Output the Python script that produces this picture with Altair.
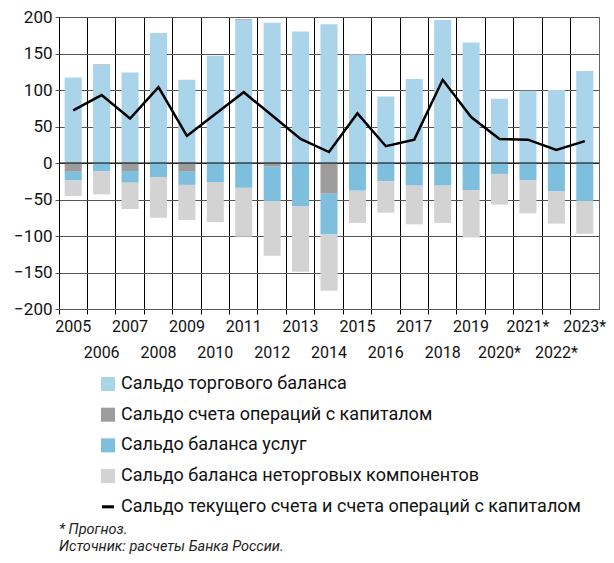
import altair as alt
import pandas as pd

years = ["2005", "2006", "2007", "2008", "2009", "2010", "2011", "2012", "2013", "2014",
         "2015", "2016", "2017", "2018", "2019", "2020*", "2021*", "2022*", "2023*"]
trade = [117, 134, 124, 178, 114, 147, 196, 192, 180, 190, 149, 91, 115, 196, 165, 88, 99, 100, 126]
capital = [-12, 1, -11, 0, -12, 0, 1, -5, 0, -42, 0, 0, 0, 0, 0, 0, 0, 0, 0]
services = [-12, -11, -16, -20, -18, -26, -34, -47, -59, -56, -38, -25, -31, -31, -37, -15, -24, -39, -52]
nontrade = [-21, -32, -36, -55, -48, -55, -67, -75, -90, -77, -44, -43, -53, -51, -65, -42, -45, -44, -45]
current = [72, 93, 61, 104, 37, 67, 97, 65, 33, 15, 68, 23, 32, 114, 63, 33, 32, 18, 30]

series_names = ["Сальдо торгового баланса", "Сальдо счета операций с капиталом",
                "Сальдо баланса услуг", "Сальдо баланса неторговых компонентов"]
line_name = "Сальдо текущего счета и счета операций с капиталом"
colors = ["#a9d4e9", "#9c9c9c", "#7ebfdd", "#d3d3d3", "#000000"]
footnotes = ["* Прогноз.", "Источник: расчеты Банка России."]

rows = []
for i, yr in enumerate(years):
    for k, vals in enumerate([trade, capital, services, nontrade]):
        if vals[i] != 0:
            rows.append({"year": yr, "series": series_names[k], "value": vals[i], "order": k})
bars_df = pd.DataFrame(rows)
line_df = pd.DataFrame({"year": years, "value": current})
zero_df = pd.DataFrame({"value": [0]})
legend_df = pd.DataFrame({"series": series_names + [line_name], "value": [None] * 5})

W, H = 540, 292

x_enc = alt.X(
    "year:N", sort=years,
    scale=alt.Scale(domain=years, paddingInner=0, paddingOuter=0),
    axis=alt.Axis(
        title=None, bandPosition=0, grid=True, gridColor="#000000", gridWidth=1,
        ticks=True, tickSize=5, tickColor="#000000", domainColor="#555555",
        labelAngle=0, labelFont="Roboto", labelFontSize=16,
        labelColor="#111111", labelOverlap=False, labelBound=False, labelFlush=False,
        labelExpr="toNumber(substring(datum.label, 0, 4)) % 2 == 1 ? [datum.label, ''] : ['', datum.label]",
        labelLineHeight=26, labelBaseline="top", labelPadding=4,
    ),
)
y_scale = alt.Scale(domain=[-200, 200], nice=False)
y_axis = alt.Axis(
    title=None, values=list(range(-200, 201, 50)), grid=True, gridColor="#555555",
    gridWidth=1, tickSize=4, tickColor="#555555", domainColor="#000000",
    labelFont="Roboto", labelFontSize=17, labelColor="#111111", labelPadding=3,
)
y_enc = alt.Y("value:Q", scale=y_scale, axis=y_axis)

color_scale = alt.Scale(domain=series_names + [line_name], range=colors)
fill_scale = alt.Scale(domain=series_names, range=colors[:4])
shape_scale = alt.Scale(
    domain=series_names + [line_name],
    range=["square", "square", "square", "square", "M-0.85,-0.22H0.85V0.22H-0.85Z"],
)

bars = alt.Chart(bars_df).mark_bar(width=alt.RelativeBandSize(0.6)).encode(
    x=x_enc,
    y=alt.Y("value:Q", scale=y_scale, axis=y_axis, stack="zero"),
    fill=alt.Fill("series:N", scale=fill_scale, legend=None),
    order=alt.Order("order:Q"),
)

zero = alt.Chart(zero_df).mark_rule(color="#000000", strokeWidth=1).encode(y=y_enc)

line = alt.Chart(line_df).mark_line(color="#000000", strokeWidth=2.5).encode(x=x_enc, y=y_enc)

leg_params = dict(
    orient="none", legendX=40, legendY=358, direction="vertical", title=None,
    labelFont="Roboto", labelFontSize=18, labelColor="#111111", symbolSize=196,
    symbolStrokeWidth=0, symbolOpacity=1, rowPadding=12.7, labelOffset=4, labelLimit=1000,
)
leg = alt.Chart(legend_df).mark_point(filled=True, size=196, opacity=1).encode(
    y=y_enc,
    color=alt.Color("series:N", scale=color_scale, legend=alt.Legend(**leg_params)),
    shape=alt.Shape("series:N", scale=shape_scale, legend=alt.Legend(**leg_params)),
)

chart = alt.layer(bars, zero, line, leg).properties(
    width=W, height=H,
    title=alt.TitleParams(
        text=footnotes, orient="bottom", anchor="start", frame="group", fontSize=14.5,
        fontStyle="italic", fontWeight="normal", font="Roboto", color="#222222",
        lineHeight=17, offset=7,
    ),
    autosize=alt.AutoSizeParams(type="none"),
    padding={"left": 51, "top": 9, "right": 7, "bottom": 246},
).configure_view(stroke="#666666", strokeWidth=1)

chart.save("out.html", embed_options={"renderer": "svg", "actions": False})
